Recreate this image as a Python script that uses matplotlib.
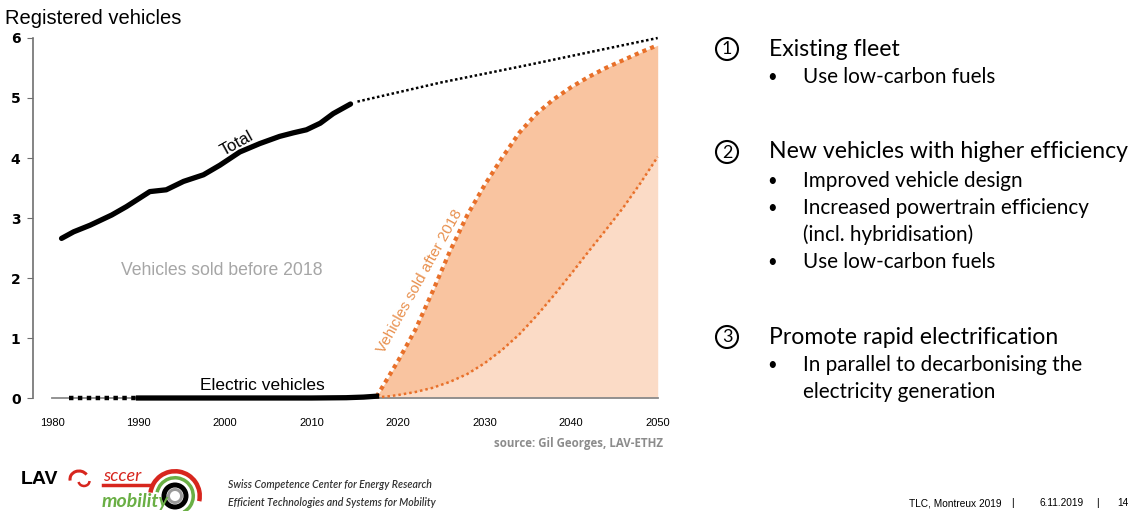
"""Registered vehicles outlook chart with the three-point strategy slide text."""
import matplotlib
matplotlib.use("Agg")
import matplotlib.pyplot as plt
from matplotlib.patches import Circle, Wedge, Arc

# --- data (million vehicles) ---
total_years = [1981.1, 1982.5, 1984.4, 1986.9, 1988.6, 1991.3, 1993.2, 1995.2, 1997.5,
               1999.4, 2001.7, 2004.0, 2006.3, 2007.9, 2009.4, 2011.0, 2012.5, 2014.5]
total_vals = [2.66, 2.77, 2.88, 3.05, 3.19, 3.44, 3.47, 3.61, 3.72,
              3.88, 4.10, 4.24, 4.36, 4.42, 4.47, 4.58, 4.74, 4.90]

total_proj_years = [2015.3, 2025, 2035, 2050]
total_proj_vals = [4.94, 5.26, 5.55, 6.00]

ev_hist_years = [1982, 1990]
ev_hist_vals = [0.0, 0.0]
ev_years = [1990, 2000, 2010, 2014, 2016, 2017.5]
ev_vals = [0.0, 0.0, 0.0, 0.005, 0.015, 0.03]

new_years = [2017.5, 2019, 2020, 2022, 2024, 2026, 2028, 2030, 2032, 2034,
             2036, 2038, 2040, 2042, 2044, 2046, 2048, 2050]
new_upper = [0.02, 0.38, 0.62, 1.14, 1.78, 2.45, 3.05, 3.55, 4.00, 4.42,
             4.74, 4.98, 5.18, 5.35, 5.50, 5.63, 5.76, 5.88]
new_lower = [0.01, 0.03, 0.05, 0.10, 0.17, 0.27, 0.40, 0.58, 0.80, 1.06,
             1.37, 1.71, 2.07, 2.44, 2.80, 3.17, 3.58, 4.02]

x_ticks = [1980, 1990, 2000, 2010, 2020, 2030, 2040, 2050]
y_ticks = [0, 1, 2, 3, 4, 5, 6]

W, H = 1130, 511
ORANGE = "#E8702A"

fig = plt.figure(figsize=(W / 100, H / 100), dpi=100)

# main chart, placed so the years / values land where the slide has them
ax = fig.add_axes([33 / W, 1 - 404 / H, (675 - 33) / W, (404 - 32) / H])
ax.set_xlim(1977.8, 2052)
ax.set_ylim(-0.1, 6.1)

ax.fill_between(new_years, 0, new_lower, color="#FBDBC6", lw=0, zorder=1)
ax.fill_between(new_years, new_lower, new_upper, color="#F9C4A0", lw=0, zorder=1)
ax.plot([x_ticks[0], x_ticks[-1]], [0, 0], color="#8a8a8a", lw=1.3, zorder=2)

ax.plot(new_years, new_upper, color=ORANGE, lw=3, linestyle=(0, (1, 1)), zorder=3)
ax.plot(new_years, new_lower, color=ORANGE, lw=1.8, linestyle=(0, (1, 1.2)), zorder=3)

ax.plot(total_years, total_vals, color="black", lw=3.8, solid_capstyle="round", zorder=4)
ax.plot(total_proj_years, total_proj_vals, color="black", lw=1.8, linestyle=(0, (1, 1)), zorder=4)

ax.plot(ev_hist_years, ev_hist_vals, color="black", lw=3.2, linestyle=(0, (1, 1)), zorder=4)
ax.plot(ev_years, ev_vals, color="black", lw=3.8, zorder=4)

for s in ["top", "right", "bottom"]:
    ax.spines[s].set_visible(False)
ax.spines["left"].set_bounds(0, 6)
ax.spines["left"].set_color("#707070")
ax.spines["left"].set_linewidth(1.2)
ax.set_yticks(y_ticks)
ax.set_yticklabels([str(v) for v in y_ticks], fontweight="bold", fontsize=10, family="DejaVu Sans")
ax.tick_params(axis="y", length=4, color="#707070", pad=5)
ax.set_xticks(x_ticks)
ax.set_xticklabels([str(v) for v in x_ticks], fontsize=8, family="Liberation Sans")
ax.tick_params(axis="x", length=0, pad=10)

ax.text(2001.8, 4.13, "Total", rotation=29, fontsize=12, family="Liberation Sans",
        ha="center", va="bottom", rotation_mode="anchor")
ax.text(1999.6, 2.13, "Vehicles sold before 2018", fontsize=12.7, color="#A6A6A6",
        family="Liberation Sans", ha="center", va="center")
ax.text(2004.3, 0.2, "Electric vehicles", fontsize=12.5, family="Liberation Sans",
        ha="center", va="center")
ax.text(2022.5, 1.95, "Vehicles sold after 2018", rotation=61, fontsize=11, color="#E8904E",
        family="Liberation Sans", ha="center", va="center", rotation_mode="anchor")

# overlay in pixel units for slide text and logos
ov = fig.add_axes([0, 0, 1, 1])
ov.set_xlim(0, W)
ov.set_ylim(H, 0)
ov.axis("off")

ov.text(5, 18, "Registered vehicles", fontsize=14.5, family="Liberation Sans", va="center")
ov.text(663, 443, "source: Gil Georges, LAV-ETHZ", fontsize=8.3, color="#8c8c8c",
        fontweight="bold", family="Open Sans", ha="right", va="center")

# right-hand bullet text
heads = [("1", "Existing fleet", 49), ("2", "New vehicles with higher efficiency", 152),
         ("3", "Promote rapid electrification", 337)]
for num, label, y in heads:
    ov.add_patch(Circle((727, y), 11, fill=False, lw=1.5, color="black"))
    ov.text(727, y + 0.5, num, fontsize=13, family="Lato", ha="center", va="center")
    ov.text(769, y, label, fontsize=16.6, family="Lato", va="center")

bullets = [("Use low-carbon fuels", 77, True), ("Improved vehicle design", 181, True),
           ("Increased powertrain efficiency", 208, True), ("(incl. hybridisation)", 235, False),
           ("Use low-carbon fuels", 262, True), ("In parallel to decarbonising the", 365, True),
           ("electricity generation", 392, False)]
for label, y, dot in bullets:
    if dot:
        ov.text(772, y, "\u2022", fontsize=12, family="Lato", ha="center", va="center")
    ov.text(803, y, label, fontsize=14.9, family="Lato", va="center")

# footer
ov.text(21, 479, "LAV", fontsize=14, fontweight="bold", family="Liberation Sans", va="center")
ov.add_patch(Arc((79, 479), 18, 16, theta1=170, theta2=330, color="#D7261E", lw=2.2))
ov.add_patch(Arc((84, 481), 11, 10, theta1=0, theta2=170, color="#D7261E", lw=1.8))
ov.text(103, 476, "sccer", fontsize=13, style="italic", color="#D7261E", family="Lato", va="center")
ov.text(102, 501, "mobility", fontsize=14, style="italic", fontweight="bold", color="#6AAF45",
        family="Lato", va="center")
ov.plot([103, 152], [485, 485], color="#D7261E", lw=2.5)
ov.add_patch(Wedge((175, 496), 27, -172, 12, width=4.5, color="#D7261E", lw=0))
ov.add_patch(Wedge((175, 496), 20, -168, 62, width=3.5, color="#6AAF45", lw=0))
ov.add_patch(Wedge((175, 496), 13.5, 0, 360, width=5, color="black", lw=0))
ov.add_patch(Wedge((175, 496), 8, 0, 360, width=3, color="#9a9a9a", lw=0))
ov.text(228, 485, "Swiss Competence Center for Energy Research", fontsize=7.6, style="italic",
        fontweight="semibold", color="#333333", family="Lato", va="center")
ov.text(228, 503, "Efficient Technologies and Systems for Mobility", fontsize=7.6, style="italic",
        fontweight="semibold", color="#333333", family="Lato", va="center")

ov.text(909, 503, "TLC, Montreux 2019", fontsize=7.3, family="Liberation Sans", va="center")
ov.text(1012, 503, "|", fontsize=7.3, family="Liberation Sans", va="center", ha="center")
ov.text(1040, 503, "6.11.2019", fontsize=7.3, family="Liberation Sans", va="center")
ov.text(1097, 503, "|", fontsize=7.3, family="Liberation Sans", va="center", ha="center")
ov.text(1117, 503, "14", fontsize=7.3, family="Liberation Sans", va="center")

fig.savefig("out.png", dpi=100)
